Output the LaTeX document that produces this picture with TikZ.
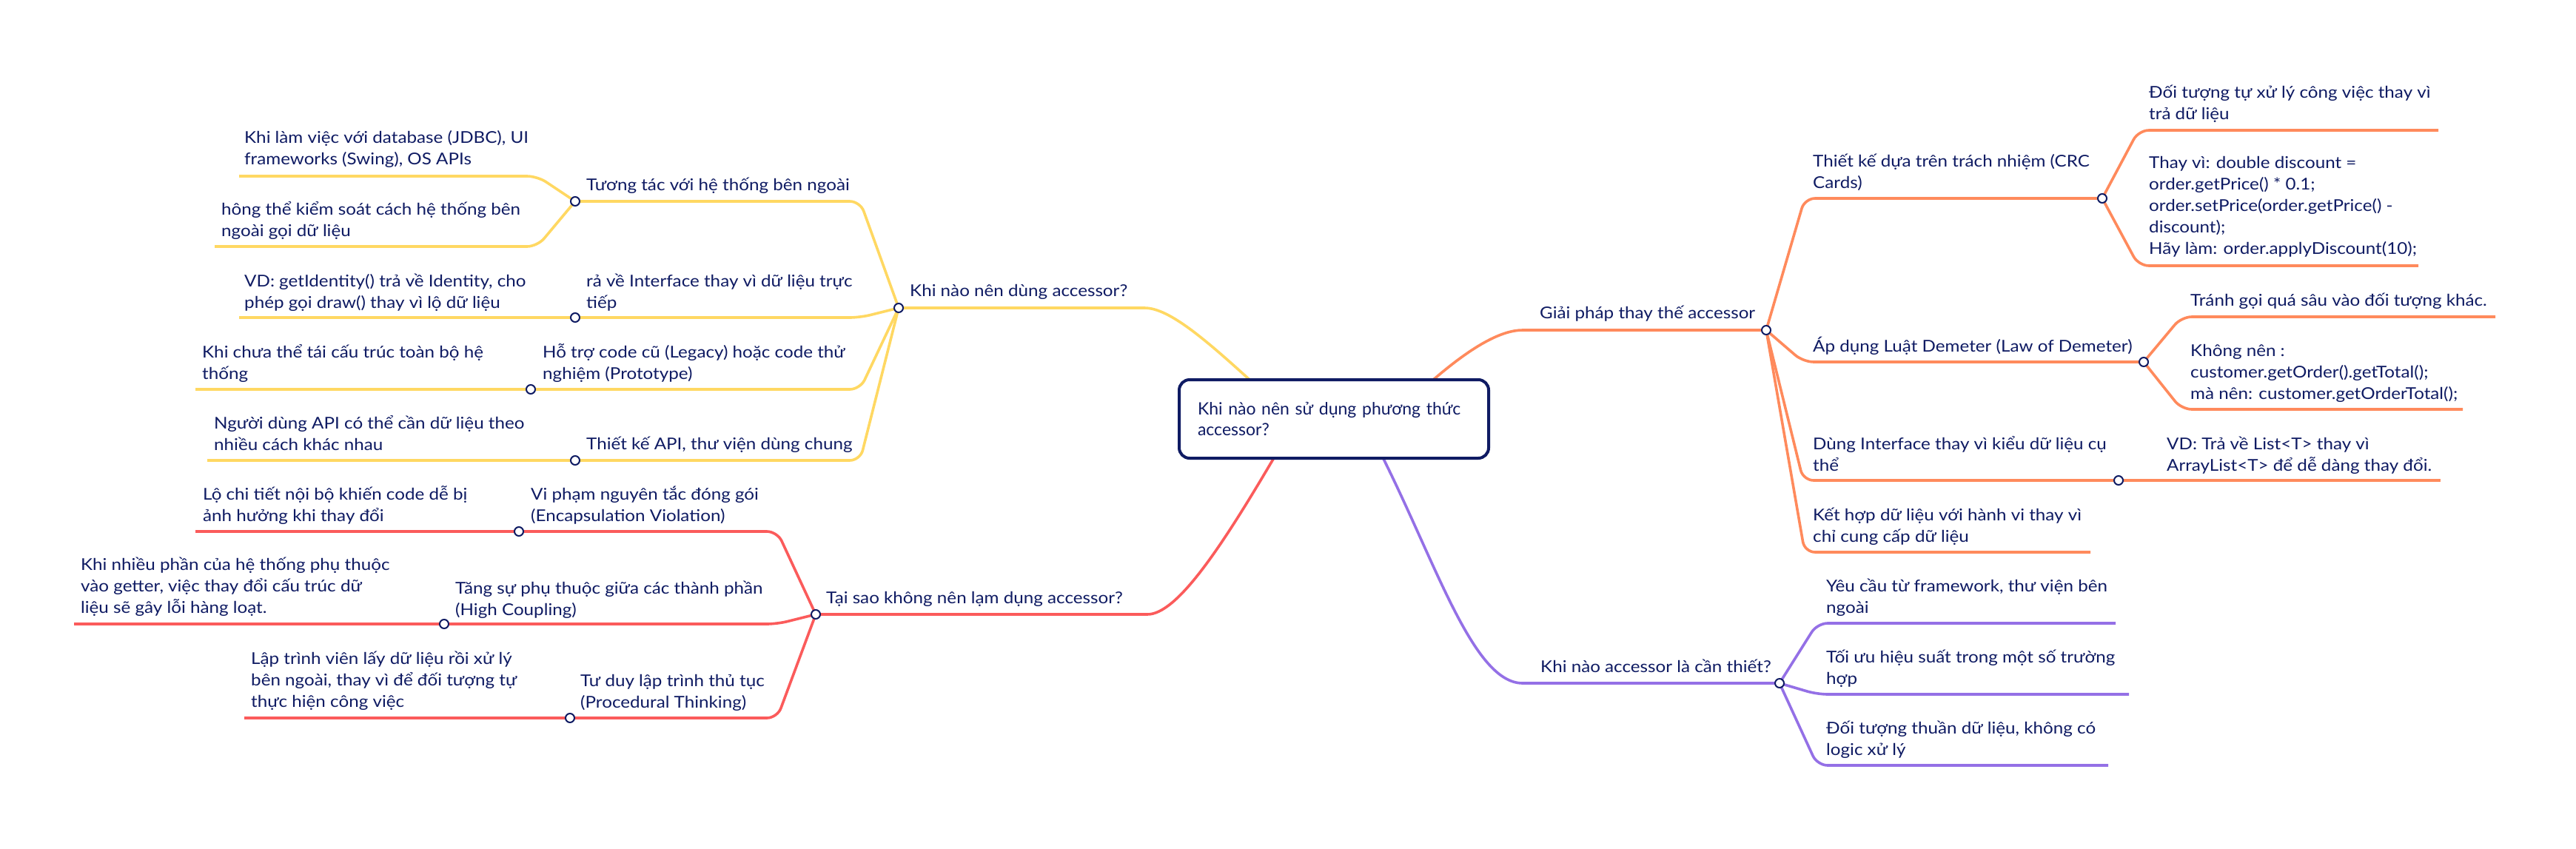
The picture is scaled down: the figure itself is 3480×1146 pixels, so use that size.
\documentclass[tikz,border=0pt]{standalone}
\usepackage{fontspec}
\setmainfont{Lato}
\newfontfamily\lblfont[FakeStretch=1.1]{Lato}
\definecolor{navy}{HTML}{0F1B63}
\definecolor{ylw}{HTML}{FFD862}
\definecolor{org}{HTML}{FF8A5C}
\definecolor{rdd}{HTML}{FB5B5B}
\definecolor{ppl}{HTML}{9470E6}
\pgfdeclarelayer{bg}
\pgfsetlayers{bg,main}
\newcommand{\ml}[1]{\begin{tabular}[t]{@{}l@{}}#1\end{tabular}}
\begin{document}
\begin{tikzpicture}[x=1pt,y=-1pt,
  lbl/.style={anchor=base west, inner sep=0pt, text=navy, font=\lblfont\fontsize{22}{29}\selectfont},
  dot/.style={circle, draw=navy, fill=white, line width=2pt, minimum size=12pt, inner sep=0pt},
  br/.style={line width=3.6pt, rounded corners=14pt},
  yb/.style={br, draw=ylw},
  ob/.style={br, draw=org},
  rb/.style={br, draw=rdd},
  pb/.style={br, draw=ppl}]
\useasboundingbox (0,0) rectangle (3480,1146);
\begin{pgfonlayer}{bg}
\fill[white] (0,0) rectangle (3480,1146);
\end{pgfonlayer}

% root
\node[draw=navy, line width=4pt, rounded corners=14pt, minimum width=418pt, minimum height=106pt,
  inner sep=0pt, fill=white, text width=368pt, align=left, text=navy,
  font=\fontsize{23}{28}\selectfont] (root) at (1802,566) {Khi nào nên sử dụng phương thức\\accessor?};

% yellow branch
\node[lbl] (yht) at (1229,400) {Khi nào nên dùng accessor?};
\node[dot] (yh) at (1214,416) {};
\node[lbl] (y1t) at (792,257) {Tương tác với hệ thống bên ngoài};
\node[dot] (y1) at (777,272) {};
\node[lbl] (y1at) at (330,193) {\ml{Khi làm việc với database (JDBC), UI\\frameworks (Swing), OS APIs}};
\coordinate (y1ae) at (323,238);
\node[lbl] (y1bt) at (299,290) {\ml{hông thể kiểm soát cách hệ thống bên\\ngoài gọi dữ liệu}};
\coordinate (y1be) at (290,333);
\node[lbl] (y2t) at (792,387) {\ml{rả về Interface thay vì dữ liệu trực\\tiếp}};
\node[dot] (y2) at (777,429) {};
\node[lbl] (y2at) at (330,387) {\ml{VD: getIdentity() trả về Identity, cho\\phép gọi draw() thay vì lộ dữ liệu}};
\coordinate (y2ae) at (323,429);
\node[lbl] (y3t) at (733,483) {\ml{Hỗ trợ code cũ (Legacy) hoặc code thử\\nghiệm (Prototype)}};
\node[dot] (y3) at (717,526) {};
\node[lbl] (y3at) at (273,483) {\ml{Khi chưa thể tái cấu trúc toàn bộ hệ\\thống}};
\coordinate (y3ae) at (264,526);
\node[lbl] (y4t) at (792,607) {Thiết kế API, thư viện dùng chung};
\node[dot] (y4) at (777,622) {};
\node[lbl] (y4at) at (289,579) {\ml{Người dùng API có thể cần dữ liệu theo\\nhiều cách khác nhau}};
\coordinate (y4ae) at (280,622);

% red branch
\node[lbl] (rht) at (1116,815) {Tại sao không nên lạm dụng accessor?};
\node[dot] (rh) at (1102,830) {};
\node[lbl] (r1t) at (717,675) {\ml{Vi phạm nguyên tắc đóng gói\\(Encapsulation Violation)}};
\node[dot] (r1) at (701,718) {};
\node[lbl] (r1at) at (274,675) {\ml{Lộ chi tiết nội bộ khiến code dễ bị\\ảnh hưởng khi thay đổi}};
\coordinate (r1ae) at (264,718);
\node[lbl] (r2t) at (615,802) {\ml{Tăng sự phụ thuộc giữa các thành phần\\(High Coupling)}};
\node[dot] (r2) at (600,843) {};
\node[lbl] (r2at) at (109,770) {\ml{Khi nhiều phần của hệ thống phụ thuộc\\vào getter, việc thay đổi cấu trúc dữ\\liệu sẽ gây lỗi hàng loạt.}};
\coordinate (r2ae) at (100,843);
\node[lbl] (r3t) at (784,927) {\ml{Tư duy lập trình thủ tục\\(Procedural Thinking)}};
\node[dot] (r3) at (770,970) {};
\node[lbl] (r3at) at (339,897) {\ml{Lập trình viên lấy dữ liệu rồi xử lý\\bên ngoài, thay vì để đối tượng tự\\thực hiện công việc}};
\coordinate (r3ae) at (330,970);

% orange branch
\node[lbl] (oht) at (2080,430) {Giải pháp thay thế accessor};
\node[dot] (oh) at (2386,446) {};
\node[lbl] (o1t) at (2449,225) {\ml{Thiết kế dựa trên trách nhiệm (CRC\\Cards)}};
\node[dot] (o1) at (2840,268) {};
\node[lbl] (o1at) at (2903,132) {\ml{Đối tượng tự xử lý công việc thay vì\\trả dữ liệu}};
\coordinate (o1ae) at (3294,176);
\node[lbl] (o1bt) at (2903,227) {\ml{Thay vì: double discount =\\order.getPrice() * 0.1;\\order.setPrice(order.getPrice() -\\discount);\\Hãy làm: order.applyDiscount(10);}};
\coordinate (o1be) at (3267,359);
\node[lbl] (o2t) at (2449,475) {Áp dụng Luật Demeter (Law of Demeter)};
\node[dot] (o2) at (2896,489) {};
\node[lbl] (o2at) at (2959,413) {Tránh gọi quá sâu vào đối tượng khác.};
\coordinate (o2ae) at (3371,428);
\node[lbl] (o2bt) at (2959,481) {\ml{Không nên :\\customer.getOrder().getTotal();\\mà nên: customer.getOrderTotal();}};
\coordinate (o2be) at (3327,553);
\node[lbl] (o3t) at (2449,607) {\ml{Dùng Interface thay vì kiểu dữ liệu cụ\\thể}};
\node[dot] (o3) at (2862,649) {};
\node[lbl] (o3at) at (2927,607) {\ml{VD: Trả về List<T> thay vì\\ArrayList<T> để dễ dàng thay đổi.}};
\coordinate (o3ae) at (3297,649);
\node[lbl] (o4t) at (2449,703) {\ml{Kết hợp dữ liệu với hành vi thay vì\\chỉ cung cấp dữ liệu}};
\coordinate (o4e) at (2824,746);

% purple branch
\node[lbl] (pht) at (2081,908) {Khi nào accessor là cần thiết?};
\node[dot] (ph) at (2404,923) {};
\node[lbl] (p1t) at (2467,799) {\ml{Yêu cầu từ framework, thư viện bên\\ngoài}};
\coordinate (p1e) at (2858,842);
\node[lbl] (p2t) at (2467,895) {\ml{Tối ưu hiệu suất trong một số trường\\hợp}};
\coordinate (p2e) at (2876,938);
\node[lbl] (p3t) at (2467,991) {\ml{Đối tượng thuần dữ liệu, không có\\logic xử lý}};
\coordinate (p3e) at (2848,1034);

\begin{pgfonlayer}{bg}
% yellow
\draw[yb] ([xshift=-104pt,yshift=44pt]root.center) .. controls (1630,460) and (1580,416) .. (1532,416) -- (yh.center);
\draw[yb] (yh.center) -- (1162,272) -- (y1.center);
\draw[yb] (y1.center) -- (726,238) -- (y1ae);
\draw[yb] (y1.center) -- (726,333) -- (y1be);
\draw[yb] (yh.center) -- (1162,429) -- (y2.center);
\draw[yb] (y2.center) -- (y2ae);
\draw[yb] (yh.center) -- (1162,526) -- (y3.center);
\draw[yb] (y3.center) -- (y3ae);
\draw[yb] (yh.center) -- (1162,622) -- (y4.center);
\draw[yb] (y4.center) -- (y4ae);
% red
\draw[rb] ([xshift=-76pt,yshift=-44pt]root.center) .. controls (1650,740) and (1590,830) .. (1536,830) -- (rh.center);
\draw[rb] (rh.center) -- (1050,718) -- (r1.center);
\draw[rb] (r1.center) -- (r1ae);
\draw[rb] (rh.center) -- (1050,843) -- (r2.center);
\draw[rb] (r2.center) -- (r2ae);
\draw[rb] (rh.center) -- (1050,970) -- (r3.center);
\draw[rb] (r3.center) -- (r3ae);
% orange
\draw[ob] ([xshift=124pt,yshift=44pt]root.center) .. controls (1990,465) and (2030,446) .. (2071,446) -- (oh.center);
\draw[ob] (oh.center) -- (2438,268) -- (o1.center);
\draw[ob] (o1.center) -- (2889,176) -- (o1ae);
\draw[ob] (o1.center) -- (2889,359) -- (o1be);
\draw[ob] (oh.center) -- (2436,489) -- (o2.center);
\draw[ob] (o2.center) -- (2947,428) -- (o2ae);
\draw[ob] (o2.center) -- (2947,553) -- (o2be);
\draw[ob] (oh.center) -- (2436,649) -- (o3.center);
\draw[ob] (o3.center) -- (o3ae);
\draw[ob] (oh.center) -- (2438,746) -- (o4e);
% purple
\draw[pb] ([xshift=62pt,yshift=-44pt]root.center) .. controls (1940,760) and (1990,923) .. (2071,923) -- (ph.center);
\draw[pb] (ph.center) -- (2455,842) -- (p1e);
\draw[pb] (ph.center) -- (2455,938) -- (p2e);
\draw[pb] (ph.center) -- (2455,1034) -- (p3e);
\end{pgfonlayer}
\end{tikzpicture}
\end{document}
